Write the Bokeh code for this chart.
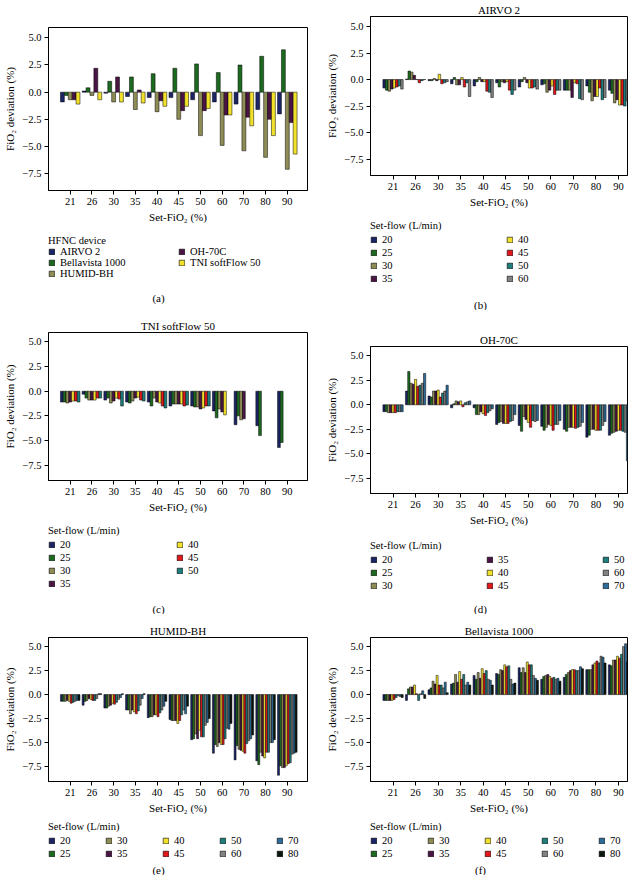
import math
from bokeh.plotting import figure
from bokeh.models import ColumnDataSource, Range1d, FixedTicker, Legend, LegendItem, Label
from bokeh.transform import dodge
from bokeh.layouts import column, row
from bokeh.embed import file_html
from bokeh.resources import INLINE

FONT = "Liberation Serif"
nan = float("nan")

# ---------------- data ----------------
set_fio2 = ["21", "26", "30", "35", "40", "45", "50", "60", "70", "80", "90"]
y_ticks = [-7.5, -5.0, -2.5, 0.0, 2.5, 5.0]
y_tick_labels = ["\u22127.5", "\u22125.0", "\u22122.5", "0.0", "2.5", "5.0"]

# (a) mean deviation per HFNC device
devices = ["AIRVO 2", "Bellavista 1000", "HUMID-BH", "OH-70C", "TNI softFlow 50"]
dev_airvo = [-0.9, 0.1, -0.1, -0.4, -0.5, -0.5, -0.7, -0.9, -1.1, -1.6, -2.0]
dev_bella = [-0.3, 0.4, 1.0, 1.4, 1.7, 2.2, 2.6, 1.8, 2.5, 3.3, 3.9]
dev_humid = [-0.7, -0.3, -0.9, -1.6, -1.8, -2.5, -4.0, -4.9, -5.4, -6.0, -7.1]
dev_oh = [-0.7, 2.2, 1.4, 0.2, -0.8, -1.7, -1.7, -2.1, -2.3, -2.5, -2.8]
dev_tni = [-1.1, -0.7, -0.9, -1.0, -1.3, -1.3, -1.5, -2.1, -3.1, -4.0, -5.7]

# (b) AIRVO 2 per set-flow
airvo_flows = ["20", "25", "30", "35", "40", "45", "50", "60"]
airvo_20 = [-0.8, 0.05, -0.1, -0.4, -0.6, -0.3, -0.7, -0.5, -1.0, -0.6, -1.0]
airvo_25 = [-1.0, 0.8, -0.1, 0.2, -0.2, -0.7, -0.2, -0.4, -1.0, -1.2, -1.3]
airvo_30 = [-1.1, 0.7, 0.1, -0.5, 0.2, -0.2, 0.2, -1.2, -1.0, -2.0, -2.2]
airvo_35 = [-0.9, 0.4, -0.1, -0.5, -0.2, -0.3, -0.3, -1.0, -1.7, -1.6, -1.9]
airvo_40 = [-0.8, 0.0, 0.5, 0.2, -0.2, -0.2, -0.8, -0.6, -0.3, -1.6, -2.4]
airvo_45 = [-0.7, -0.3, -0.4, -0.7, -1.1, -1.0, -0.8, -1.4, -0.4, -0.8, -2.4]
airvo_50 = [-0.6, -0.1, -0.3, -0.3, -1.2, -1.4, -0.7, -1.0, -1.8, -1.9, -2.5]
airvo_60 = [-0.9, 0.0, -0.2, -1.6, -1.7, -1.0, -0.9, -1.0, -1.9, -1.7, -2.0]

# (c) TNI softFlow 50 per set-flow (nan = not measured)
tni_flows = ["20", "25", "30", "35", "40", "45", "50"]
tni_20 = [-1.1, -0.3, -0.9, -1.1, -1.1, -1.5, -1.5, -2.0, -3.4, -3.5, -5.7]
tni_25 = [-1.1, -0.7, -0.7, -1.2, -1.5, -1.3, -1.6, -2.7, -2.5, -4.5, -5.2]
tni_30 = [-1.2, -0.9, -1.2, -1.0, -0.7, -1.3, -1.6, -1.8, -2.9, nan, nan]
tni_35 = [-1.1, -0.9, -1.0, -0.7, -1.1, -1.3, -1.8, -2.1, -2.8, nan, nan]
tni_40 = [-1.0, -0.9, -0.7, -0.6, -1.2, -1.3, -1.7, -2.4, nan, nan, nan]
tni_45 = [-1.0, -0.7, -0.8, -0.9, -1.5, -1.5, -1.5, nan, nan, nan, nan]
tni_50 = [-1.1, -0.7, -1.5, -1.0, -1.7, -1.4, -1.5, nan, nan, nan, nan]

# (d) OH-70C per set-flow
oh_flows = ["20", "25", "30", "35", "40", "45", "50", "60", "70"]
oh_20 = [-0.7, 1.4, 0.9, -0.3, -0.3, -2.0, -2.1, -2.2, -2.5, -3.3, -3.1]
oh_25 = [-0.7, 3.4, 0.8, 0.1, -1.0, -1.8, -2.7, -2.6, -2.7, -3.1, -2.9]
oh_30 = [-0.8, 2.2, 1.4, 0.4, -1.0, -1.7, -1.2, -2.3, -2.3, -2.5, -2.8]
oh_35 = [-0.8, 2.1, 1.4, 0.3, -0.7, -1.9, -1.5, -2.0, -2.3, -2.5, -2.7]
oh_40 = [-0.8, 2.6, 1.5, 0.4, -0.9, -1.9, -1.8, -2.1, -2.3, -2.6, -2.6]
oh_45 = [-0.8, 1.9, 0.8, -0.2, -1.1, -1.9, -2.3, -2.6, -2.4, -2.6, -2.6]
oh_50 = [-0.7, 2.0, 1.2, 0.2, -0.8, -1.7, -1.6, -2.0, -2.3, -2.6, -2.7]
oh_60 = [-0.7, 2.2, 1.4, 0.3, -0.6, -1.6, -1.7, -2.0, -2.2, -2.1, -2.8]
oh_70 = [-0.7, 3.2, 2.0, 0.4, -0.4, -1.0, -1.6, -1.6, -1.8, -1.7, -5.7]

# (e) HUMID-BH per set-flow
humid_flows = ["20", "25", "30", "35", "40", "45", "50", "60", "70", "80"]
humid_20 = [-0.7, -1.1, -1.4, -1.6, -2.4, -2.6, -4.7, -6.1, -6.8, -6.9, -8.4]
humid_25 = [-0.7, -0.7, -1.4, -1.6, -2.3, -2.7, -4.6, -5.2, -5.3, -7.3, -7.4]
humid_30 = [-0.7, -0.6, -1.2, -2.0, -2.3, -2.7, -4.1, -5.4, -5.7, -6.0, -7.6]
humid_35 = [-0.6, -0.4, -1.1, -1.6, -2.1, -2.7, -4.6, -5.0, -5.8, -6.4, -7.6]
humid_40 = [-0.7, -0.5, -0.9, -1.8, -2.1, -3.0, -3.7, -5.2, -5.9, -6.6, -7.4]
humid_45 = [-0.9, -0.6, -1.0, -2.0, -2.3, -2.7, -4.4, -5.2, -6.1, -6.0, -7.2]
humid_50 = [-0.8, -0.6, -0.8, -1.7, -1.9, -2.1, -4.4, -4.6, -5.1, -6.0, -7.1]
humid_60 = [-0.7, -0.4, -0.5, -1.1, -1.6, -1.6, -3.2, -3.5, -4.8, -5.0, -6.2]
humid_70 = [-0.6, 0.1, -0.3, -0.4, -1.2, -2.0, -2.9, -3.6, -4.6, -5.0, -6.1]
humid_80 = [-0.6, 0.1, 0.1, 0.1, -0.7, -1.2, -2.5, -3.0, -4.2, -4.7, -6.0]

# (f) Bellavista 1000 per set-flow
bella_flows = ["20", "25", "30", "35", "40", "45", "50", "60", "70", "80"]
bella_20 = [-0.6, -0.6, 0.5, 1.1, 2.0, 2.2, 2.8, 1.6, 1.8, 2.6, 3.1]
bella_25 = [-0.6, 0.6, 0.7, 1.2, 1.6, 2.1, 2.3, 1.9, 2.1, 2.6, 3.0]
bella_30 = [-0.6, 0.8, 1.4, 2.1, 2.3, 2.6, 2.8, 2.0, 2.3, 2.6, 3.6]
bella_35 = [-0.6, 0.8, 1.1, 1.3, 1.7, 2.5, 2.3, 2.1, 2.5, 3.1, 3.6]
bella_40 = [-0.6, 1.0, 2.0, 2.4, 2.7, 3.1, 3.4, 1.9, 2.6, 3.3, 4.0]
bella_45 = [-0.5, 0.1, 1.0, 1.6, 2.2, 2.9, 3.1, 1.7, 2.6, 3.5, 3.8]
bella_50 = [-0.3, -0.6, 1.0, 2.1, 2.5, 3.0, 3.1, 1.8, 2.5, 3.3, 4.2]
bella_60 = [-0.1, 0.1, 0.7, 1.0, 1.6, 1.6, 2.0, 1.6, 2.5, 4.0, 5.0]
bella_70 = [-0.2, 0.4, 1.3, 1.3, 1.5, 1.1, 1.7, 1.7, 2.9, 3.9, 5.3]
bella_80 = [-0.3, -0.4, 0.2, 1.0, 1.0, 1.2, 1.5, 1.4, 2.7, 3.3, 3.4]

flow_colors = {
    "20": "#1b2466", "25": "#1c6a1f", "30": "#8e8d55", "35": "#4a1444",
    "40": "#f2e12b", "45": "#e3161c", "50": "#1d7e7c", "60": "#828282",
    "70": "#2d6c9a", "80": "#0b170d",
}
device_colors = ["#1b2466", "#1c6a1f", "#8e8d55", "#4a1444", "#f2e12b"]


def make_panel(title, names, series, colors, legend_title, caption, width,
               left, right, top, frame_h, bottom, x_end,
               leg_h, leg_top, nrows, col_pitch, row_gap, title_gap,
               caption_x, caption_y):
    # ---- main chart ----
    p = figure(width=width, height=top + frame_h + bottom, x_range=Range1d(0, x_end),
               y_range=Range1d(-9.05, 5.95), output_backend="svg", toolbar_location=None,
               min_border_left=left, min_border_right=right, min_border_top=top,
               min_border_bottom=bottom, title=title if title else None)
    if title:
        p.title.align = "center"
        p.title.text_font = FONT
        p.title.text_font_size = "11px"
        p.title.text_font_style = "normal"
        p.title.text_color = "black"
        p.title.standoff = 2
    p.outline_line_color = "black"
    p.outline_line_width = 1
    p.xgrid.grid_line_color = None
    p.ygrid.grid_line_color = None
    p.background_fill_color = "white"
    p.border_fill_color = "white"

    xs = list(range(1, len(set_fio2) + 1))
    p.xaxis.ticker = FixedTicker(ticks=xs)
    p.xaxis.major_label_overrides = {x: lab for x, lab in zip(xs, set_fio2)}
    p.xaxis.axis_label = "Set-FiO\u2082 (%)"
    p.yaxis.ticker = FixedTicker(ticks=y_ticks)
    p.yaxis.major_label_overrides = {t: lab for t, lab in zip(y_ticks, y_tick_labels)}
    p.yaxis.axis_label = "FiO\u2082 deviation (%)"
    for ax in (p.xaxis[0], p.yaxis[0]):
        ax.major_label_text_font = FONT
        ax.major_label_text_font_size = "10.5px"
        ax.major_label_text_color = "black"
        ax.axis_label_text_font = FONT
        ax.axis_label_text_font_size = "11px"
        ax.axis_label_text_font_style = "normal"
        ax.axis_label_text_color = "black"
        ax.axis_line_color = "black"
        ax.major_tick_line_color = "black"
        ax.major_tick_out = 4
        ax.major_tick_in = 0
        ax.minor_tick_line_color = None
        ax.major_label_standoff = 3
        ax.axis_label_standoff = 3

    # ---- legend strip with caption (its range keeps its copies of the bars out of view) ----
    lf = figure(width=width, height=leg_h, x_range=Range1d(0, x_end), y_range=Range1d(100, 101),
                output_backend="svg", toolbar_location=None, x_axis_location=None,
                y_axis_location=None, min_border_left=left, min_border_right=0,
                min_border_top=leg_top, min_border_bottom=0, title=None)
    lf.outline_line_color = None
    lf.xgrid.grid_line_color = None
    lf.ygrid.grid_line_color = None
    lf.background_fill_color = "white"
    lf.border_fill_color = "white"

    n = len(series)
    w = 0.9 / n
    items = []
    for i, (name, vals, col) in enumerate(zip(names, series, colors)):
        keep = [k for k, v in enumerate(vals) if not math.isnan(v)]
        src = ColumnDataSource(dict(x=[xs[k] for k in keep], y=[vals[k] for k in keep]))
        off = -0.45 + (i + 0.5) * w
        p.vbar(x=dodge("x", off, range=p.x_range), top="y", bottom=0, width=w,
               source=src, fill_color=col, line_color="black", line_width=0.5)
        r = lf.vbar(x=dodge("x", off, range=lf.x_range), top="y", bottom=0, width=w,
                    source=src, fill_color=col, line_color="black", line_width=0.6)
        items.append(LegendItem(label=name, renderers=[r]))

    leg = Legend(items=items, title=legend_title, location="top_left",
                 orientation="vertical", nrows=nrows, padding=0, margin=0,
                 spacing=row_gap, glyph_width=7, glyph_height=7, label_height=10,
                 label_width=col_pitch - 7 - 5 - row_gap, label_standoff=5,
                 title_standoff=title_gap, border_line_color=None,
                 background_fill_alpha=0,
                 label_text_font=FONT, label_text_font_size="10.5px", label_text_color="black",
                 title_text_font=FONT, title_text_font_size="10.5px",
                 title_text_font_style="normal", title_text_color="black")
    lf.add_layout(leg)
    lf.add_layout(Label(x=caption_x, y=caption_y, x_units="screen", y_units="screen",
                        text=caption, text_align="center", text_baseline="middle",
                        text_font=FONT, text_font_size="11px", text_color="black"))
    return column(p, lf)


LW, RW = 321, 319

pa = make_panel("", devices, [dev_airvo, dev_bella, dev_humid, dev_oh, dev_tni], device_colors,
                "HFNC device", "(a)", LW, 48, 14, 27, 163, 44, 11.93,
                76, 1, 3, 130, 0, 0, 110, 13)
pb = make_panel("AIRVO 2", airvo_flows,
                [airvo_20, airvo_25, airvo_30, airvo_35, airvo_40, airvo_45, airvo_50, airvo_60],
                [flow_colors[f] for f in airvo_flows], "Set-flow (L/min)", "(b)", RW,
                49, 13, 14, 161, 44, 11.4, 91, 1, 4, 136, 2, 3, 110, 6)
pc = make_panel("TNI softFlow 50", tni_flows,
                [tni_20, tni_25, tni_30, tni_35, tni_40, tni_45, tni_50],
                [flow_colors[f] for f in tni_flows], "Set-flow (L/min)", "(c)", LW,
                48, 14, 22, 148, 44, 11.93, 90, 1, 4, 128, 2, 3, 110, 6)
pd = make_panel("OH-70C", oh_flows,
                [oh_20, oh_25, oh_30, oh_35, oh_40, oh_45, oh_50, oh_60, oh_70],
                [flow_colors[f] for f in oh_flows], "Set-flow (L/min)", "(d)", RW,
                49, 13, 36, 147, 44, 11.4, 77, 3, 3, 116, 2, 3, 110, 6)
pe = make_panel("HUMID-BH", humid_flows,
                [humid_20, humid_25, humid_30, humid_35, humid_40, humid_45, humid_50,
                 humid_60, humid_70, humid_80],
                [flow_colors[f] for f in humid_flows], "Set-flow (L/min)", "(e)", LW,
                48, 14, 23, 144, 40, 11.93, 54, 0, 2, 57, 2, 3, 110, 6)
pf = make_panel("Bellavista 1000", bella_flows,
                [bella_20, bella_25, bella_30, bella_35, bella_40, bella_45, bella_50,
                 bella_60, bella_70, bella_80],
                [flow_colors[f] for f in bella_flows], "Set-flow (L/min)", "(f)", RW,
                49, 13, 23, 144, 40, 11.4, 54, 0, 2, 57, 2, 3, 110, 6)

layout = column(row(pa, pb), row(pc, pd), row(pe, pf))

open("out.html", "w").write(file_html(layout, INLINE))
